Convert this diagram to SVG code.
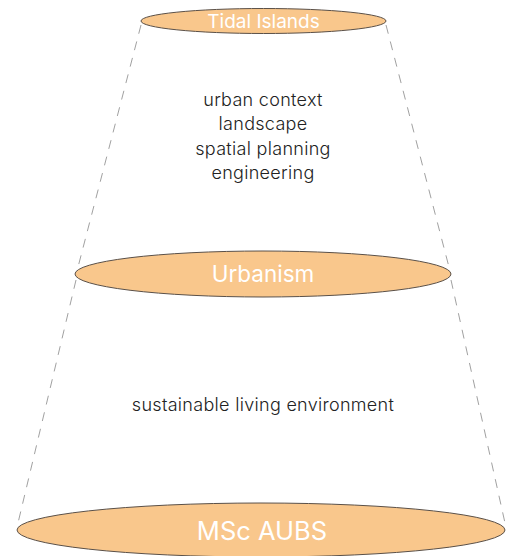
<svg xmlns="http://www.w3.org/2000/svg" width="506" height="556" viewBox="0 0 506 556">
<style>
.disc{fill:#F9C78C;stroke:#5a5048;stroke-width:1}
.lbl{font-family:Inter,"Liberation Sans",sans-serif;fill:#ffffff;text-anchor:middle}
.txt{font-family:Inter,"Liberation Sans",sans-serif;fill:#222222;font-size:18px;font-weight:300;letter-spacing:0.3px;text-anchor:middle}
.dash{stroke:#888888;stroke-width:0.8;stroke-dasharray:9 8;fill:none}
</style>
<rect width="506" height="556" fill="#ffffff"/>
<g id="connectors">
<line class="dash" x1="141" y1="25" x2="77" y2="271"/>
<line class="dash" x1="76" y1="280" x2="18" y2="523"/>
<line class="dash" x1="386" y1="25" x2="450" y2="271"/>
<line class="dash" x1="451" y1="280" x2="505" y2="523"/>
</g>
<g id="tidal-islands">
<ellipse class="disc" cx="263.5" cy="21" rx="122.5" ry="12.5"/>
<text class="lbl" x="263.5" y="27.5" font-size="19">Tidal Islands</text>
</g>
<g id="urbanism">
<ellipse class="disc" cx="263" cy="274" rx="188" ry="23"/>
<text class="lbl" x="263" y="282" font-size="22.5">Urbanism</text>
</g>
<g id="msc-aubs">
<ellipse class="disc" cx="261" cy="530" rx="244" ry="27"/>
<text class="lbl" x="262" y="540" font-size="25.5">MSc AUBS</text>
</g>
<g id="upper-text">
<text class="txt" x="263" y="106">urban context</text>
<text class="txt" x="263" y="130">landscape</text>
<text class="txt" x="263" y="155">spatial planning</text>
<text class="txt" x="263" y="179">engineering</text>
</g>
<g id="lower-text">
<text class="txt" x="263" y="411">sustainable living environment</text>
</g>
</svg>
